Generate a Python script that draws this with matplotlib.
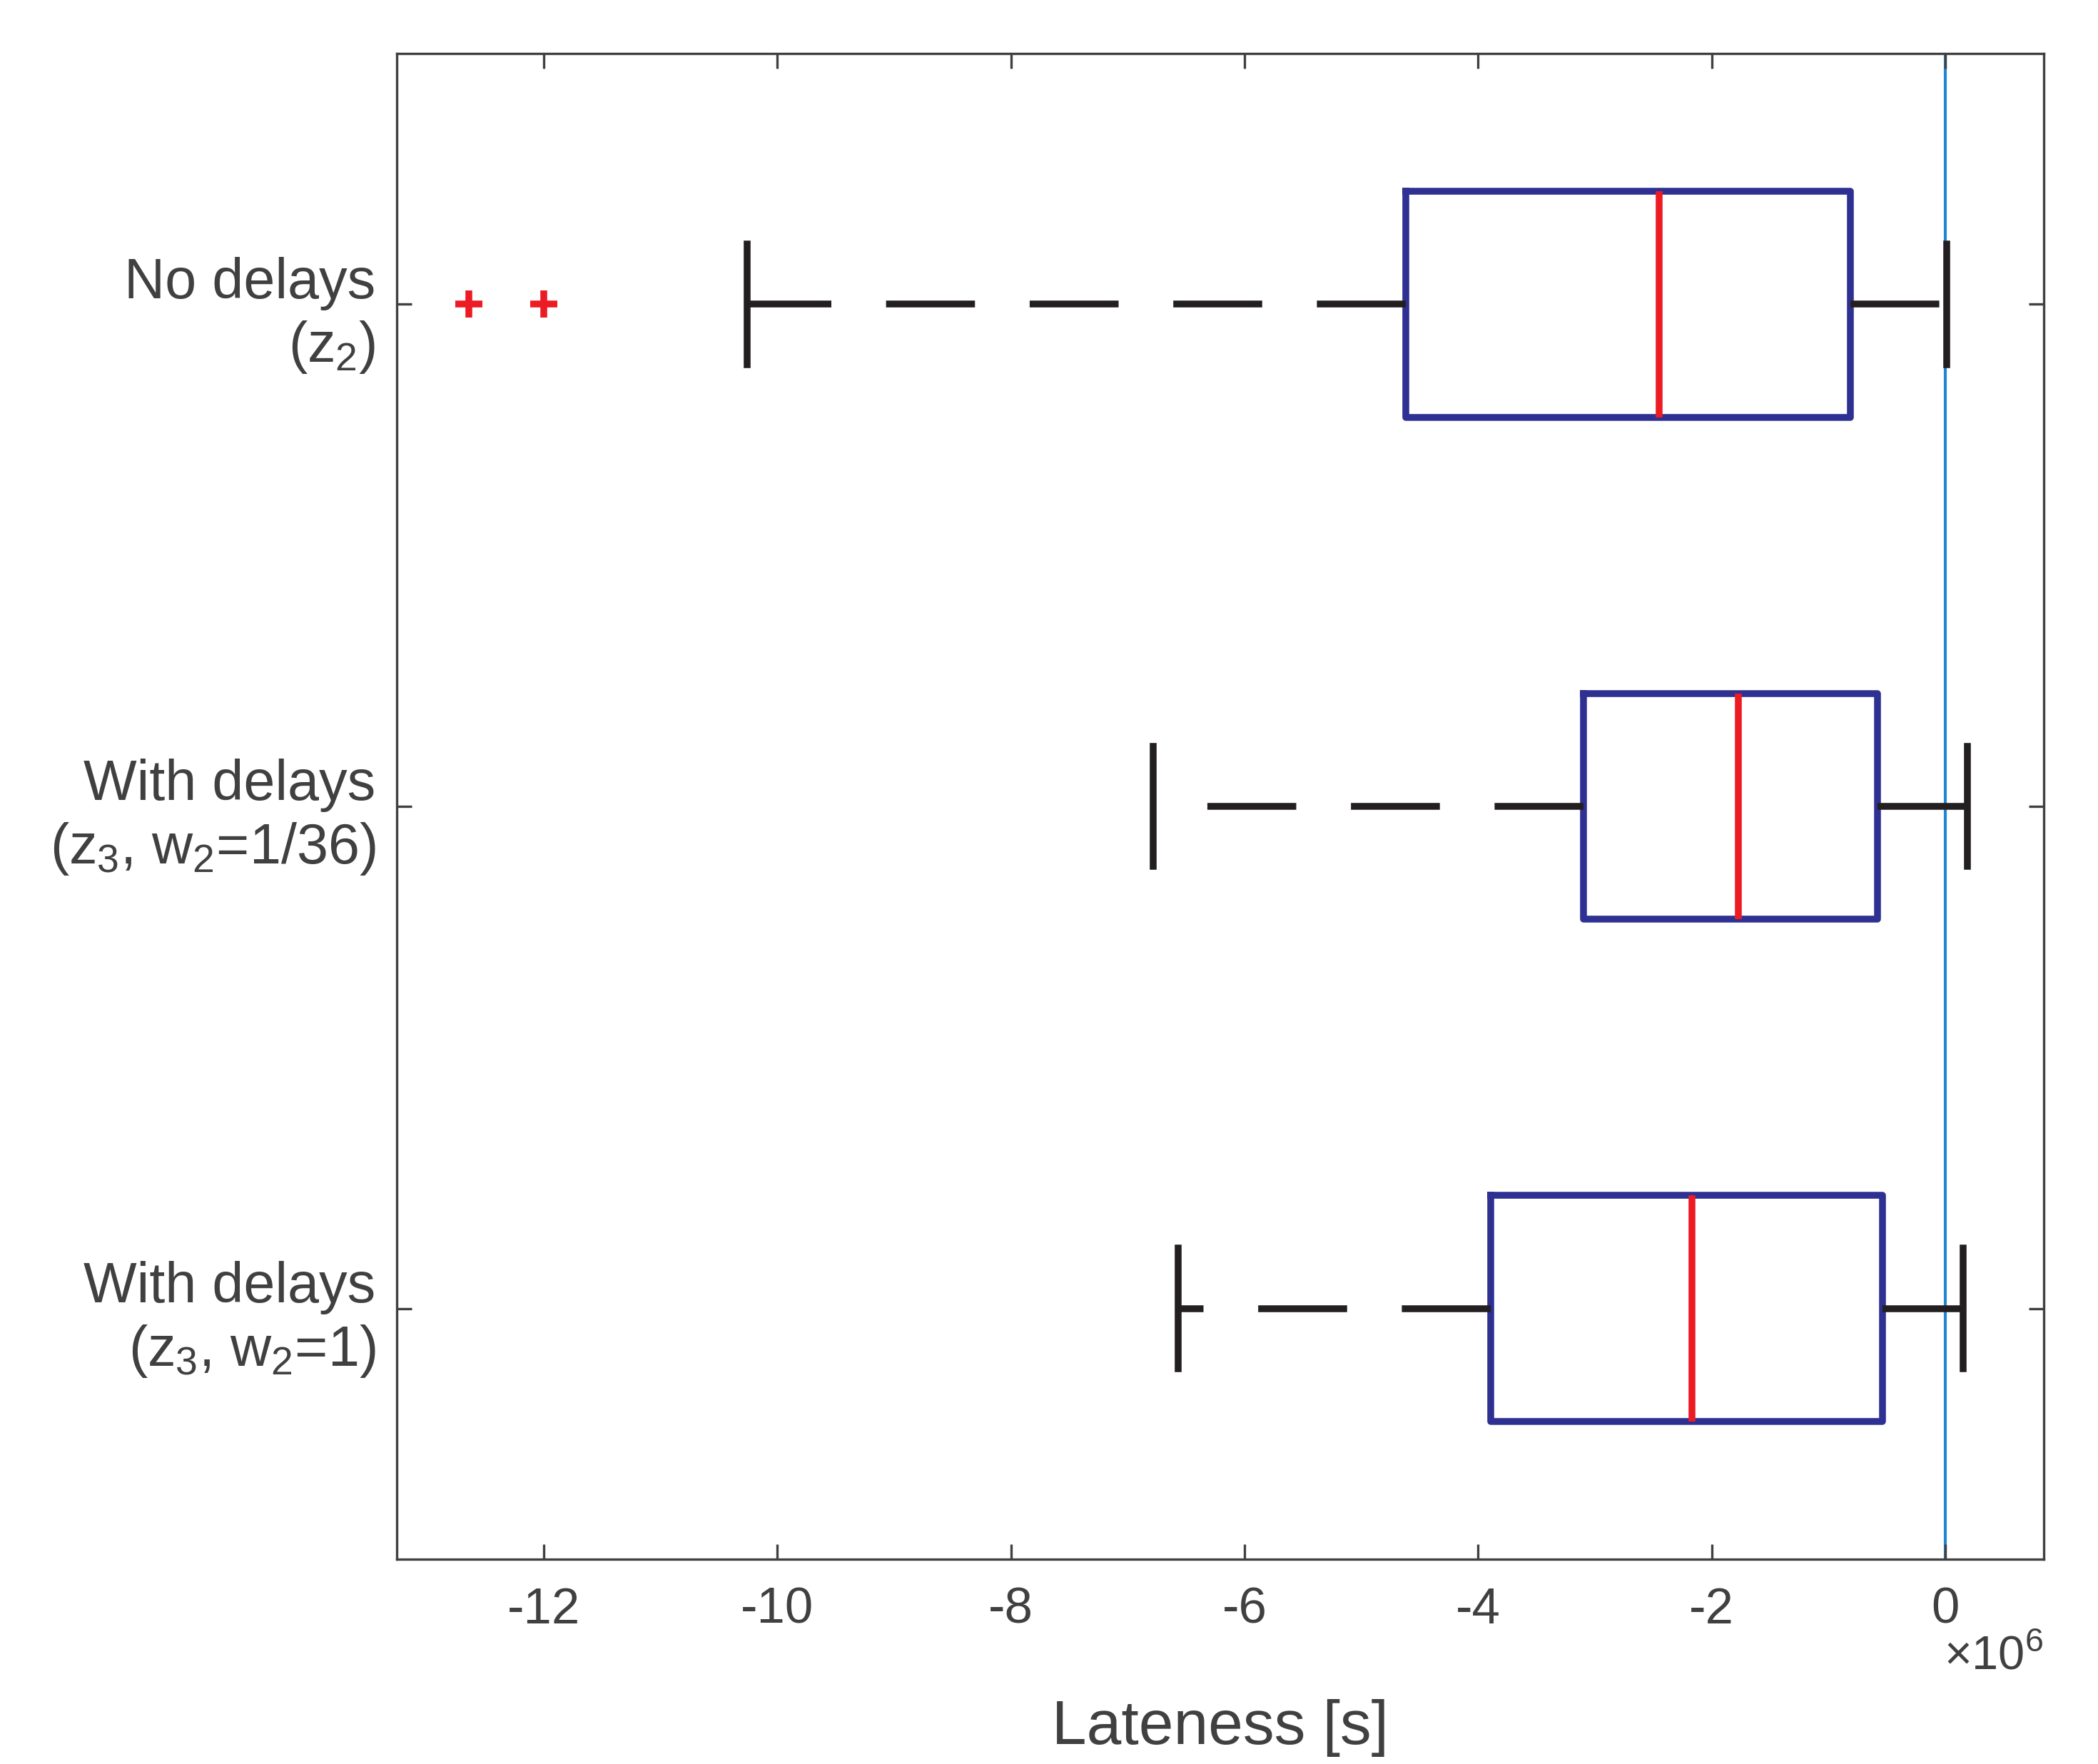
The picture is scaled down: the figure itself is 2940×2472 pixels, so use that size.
import matplotlib
matplotlib.use("Agg")
import matplotlib.pyplot as plt

labels = ["No delays\n($z_2$)", "With delays\n($z_3$, $w_2$=1/36)", "With delays\n($z_3$, $w_2$=1)"]
whislo = [-10.26, -6.78, -6.57]
q1 = [-4.62, -3.10, -3.89]
med = [-2.45, -1.77, -2.17]
q3 = [-0.81, -0.58, -0.54]
whishi = [0.01, 0.19, 0.15]
fliers = [[-12.64, -12.0], [], []]

plt.rcParams['font.family'] = ['Liberation Sans', 'DejaVu Sans']
plt.rcParams['mathtext.fontset'] = 'custom'
plt.rcParams['mathtext.rm'] = 'Liberation Sans'
plt.rcParams['mathtext.it'] = 'Liberation Sans'
gray = '#404040'
fig = plt.figure(figsize=(9.8, 8.243), dpi=300)
ax = fig.add_axes([0.189, 0.1159, 0.785, 0.8536])
stats = [dict(whislo=a, q1=b, med=c, q3=d, whishi=e, fliers=f) for a, b, c, d, e, f in
         zip(whislo, q1, med, q3, whishi, fliers)]
ax.axvline(0, color='#1f88d0', lw=1.0, zorder=0)
ax.bxp(stats, positions=[1, 2, 3], vert=False, widths=0.45, capwidths=0.24,
       boxprops=dict(color='#2e3192', lw=2.3),
       medianprops=dict(color='#ed1c24', lw=2.3),
       whiskerprops=dict(color='#231f20', lw=2.3, linestyle=(0, (13, 8))),
       capprops=dict(color='#231f20', lw=2.3),
       flierprops=dict(marker='+', markeredgecolor='#ed1c24', markersize=9, markeredgewidth=2.3))
ax.set_xlim(-13.26, 0.84)
ax.set_ylim(3.5, 0.5)
ax.set_yticks([1, 2, 3])
ax.set_yticklabels(labels, fontsize=19, color=gray, ha='right')
ax.set_xticks([-12, -10, -8, -6, -4, -2, 0])
ax.set_xticklabels(['-12', '-10', '-8', '-6', '-4', '-2', '0'], fontsize=17, color=gray)
ax.tick_params(direction='in', top=True, right=True, length=5, width=0.8, colors=gray, labelcolor=gray)
ax.tick_params(axis='x', pad=9)
ax.tick_params(axis='y', pad=7)
for s in ax.spines.values():
    s.set_color(gray); s.set_linewidth(0.8)
ax.set_xlabel('Lateness [s]', fontsize=21, color=gray, labelpad=22)
ax.text(1.0, -0.05, r'$\times 10^6$', transform=ax.transAxes, ha='right', va='top', fontsize=16, color=gray)
fig.savefig('out.png', dpi=300)
